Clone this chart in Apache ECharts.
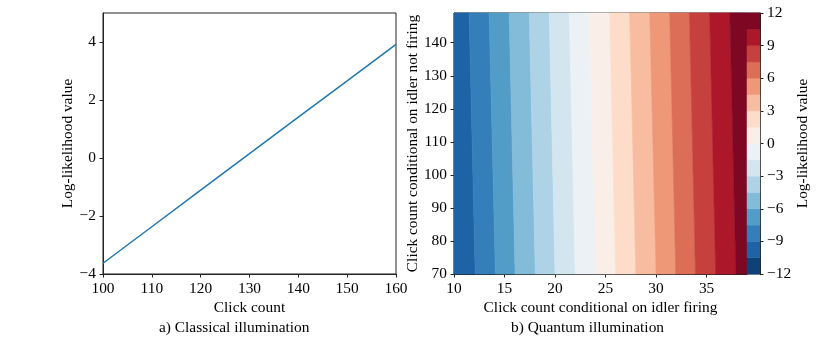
<!DOCTYPE html>
<html style="height: 100%">
<head>
    <meta charset="utf-8">
    <title>Log-likelihood</title>
</head>
<body style="height: 100%; margin: 0">
<div id="container" style="width: 830px; height: 346px"></div>
<script src="https://cdn.jsdelivr.net/npm/echarts@6/dist/echarts.min.js"></script>
<script type="text/javascript">
    // a) classical illumination
    var clickCount = [100, 110, 120, 130, 140, 150, 160];
    var logLikClassical = [-3.63, -2.37, -1.11, 0.15, 1.41, 2.66, 3.92];

    // b) quantum illumination: contour levels and where each level line
    // crosses the bottom (y=70) and top (y=149) of the plot
    var levels = [-12, -10.5, -9, -7.5, -6, -4.5, -3, -1.5, 0, 1.5, 3, 4.5, 6, 7.5, 9, 10.5, 12];
    var boundaryLevels = [-9, -7.5, -6, -4.5, -3, -1.5, 0, 1.5, 3, 4.5, 6, 7.5, 9, 10.5];
    var boundaryAt70 = [12.1, 14.1, 16.05, 18.05, 20.0, 22.0, 24.0, 26.0, 28.0, 30.0, 31.95, 33.9, 35.9, 37.9];
    var boundaryAt149 = [11.5, 13.48, 15.46, 17.45, 19.43, 21.42, 23.4, 25.4, 27.38, 29.37, 31.35, 33.3, 35.3, 37.3];
    var idlerFiringTicks = [10, 15, 20, 25, 30, 35];
    var idlerNotFiringTicks = [70, 80, 90, 100, 110, 120, 130, 140];
    var classicalYTicks = [-4, -2, 0, 2, 4];
    var xRange = [10, 39];
    var yRange = [70, 149];

    // RdBu_r sampled at band midpoints
    var bandColors = ['#0e4178', '#1f63a7', '#347fb9', '#529cc8', '#83bcd9', '#aed3e6',
        '#d3e6f0', '#ebf1f5', '#f9eee8', '#fdddca', '#f8bda0', '#ee9878',
        '#dc6d57', '#c6413e', '#ad172a', '#7e0823'];

    var font = 'Liberation Serif';
    var fs = 15.4;
    var axisCol = '#222';
    var minus = function (v) { return String(v).replace('-', '\u2212'); };

    var contourData = [];
    for (var k = 1; k < levels.length - 1; k++) {
        var li = boundaryLevels.indexOf(levels[k]);
        var ri = boundaryLevels.indexOf(levels[k + 1]);
        contourData.push([
            li >= 0 ? boundaryAt70[li] : xRange[0],
            li >= 0 ? boundaryAt149[li] : xRange[0],
            ri >= 0 ? boundaryAt70[ri] : xRange[1],
            ri >= 0 ? boundaryAt149[ri] : xRange[1],
            k
        ]);
    }
    var barData = [];
    for (var j = 0; j < levels.length - 1; j++) {
        barData.push([levels[j], levels[j + 1], j]);
    }

    function baseAxis(extra) {
        var a = {
            axisLine: { show: true, onZero: false, lineStyle: { color: axisCol, width: 1 } },
            axisTick: { show: true, inside: false, length: 3.5, lineStyle: { color: axisCol } },
            axisLabel: { color: '#000', fontFamily: font, fontSize: fs, margin: 7, formatter: minus },
            splitLine: { show: false },
            nameTextStyle: { color: '#000', fontFamily: font, fontSize: fs },
            nameLocation: 'middle'
        };
        for (var key in extra) a[key] = extra[key];
        return a;
    }

    var dom = document.getElementById('container');
    var myChart = echarts.init(dom, null, { renderer: 'canvas' });
    var gridStyle = { show: true, borderColor: axisCol, borderWidth: 1, backgroundColor: 'transparent', outerBoundsMode: 'none', containLabel: false };

    var option = {
        backgroundColor: '#fff',
        animation: false,
        grid: [
            Object.assign({ left: 103, top: 13, width: 293, height: 261 }, gridStyle),
            Object.assign({ left: 454, top: 13, width: 293, height: 261 }, gridStyle),
            Object.assign({ left: 747, top: 13, width: 13, height: 261 }, gridStyle)
        ],
        xAxis: [
            baseAxis({
                gridIndex: 0, type: 'value', min: 100, max: 160, interval: 10,
                name: 'Click count', nameGap: 21
            }),
            baseAxis({
                gridIndex: 1, type: 'value', min: xRange[0], max: xRange[1],
                name: 'Click count conditional on idler firing', nameGap: 21,
                axisTick: { show: true, length: 3.5, lineStyle: { color: axisCol }, customValues: idlerFiringTicks },
                axisLabel: { color: '#000', fontFamily: font, fontSize: fs, margin: 7, customValues: idlerFiringTicks }
            }),
            { gridIndex: 2, type: 'value', min: 0, max: 1, show: false }
        ],
        yAxis: [
            baseAxis({
                gridIndex: 0, type: 'value', min: -4, max: 5,
                name: 'Log-likelihood value', nameGap: 28, nameRotate: 90,
                axisTick: { show: true, length: 3.5, lineStyle: { color: axisCol }, customValues: classicalYTicks },
                axisLabel: { color: '#000', fontFamily: font, fontSize: fs, margin: 7, formatter: minus, customValues: classicalYTicks }
            }),
            baseAxis({
                gridIndex: 1, type: 'value', min: yRange[0], max: yRange[1],
                name: 'Click count conditional on idler not firing', nameGap: 33, nameRotate: 90,
                axisTick: { show: true, length: 3.5, lineStyle: { color: axisCol }, customValues: idlerNotFiringTicks },
                axisLabel: { color: '#000', fontFamily: font, fontSize: fs, margin: 7, customValues: idlerNotFiringTicks }
            }),
            baseAxis({
                gridIndex: 2, type: 'value', min: -12, max: 12, interval: 3, position: 'right',
                name: 'Log-likelihood value', nameGap: 25, nameRotate: 90
            })
        ],
        graphic: [
            { type: 'text', left: 249 - 90, top: 320, style: { text: 'a) Classical illumination', font: fs + 'px "Liberation Serif"', fill: '#000', width: 180, align: 'center' }, z: 10 },
            { type: 'text', left: 601 - 90, top: 320, style: { text: 'b) Quantum illumination', font: fs + 'px "Liberation Serif"', fill: '#000', width: 180, align: 'center' }, z: 10 }
        ],
        series: [
            {
                type: 'line',
                xAxisIndex: 0, yAxisIndex: 0,
                showSymbol: false,
                lineStyle: { color: '#1f77b4', width: 1.5 },
                data: clickCount.map(function (c, i) { return [c, logLikClassical[i]]; })
            },
            {
                type: 'custom',
                xAxisIndex: 1, yAxisIndex: 1,
                data: contourData,
                renderItem: function (params, api) {
                    var p = [
                        api.coord([api.value(0), yRange[0]]),
                        api.coord([api.value(1), yRange[1]]),
                        api.coord([api.value(3), yRange[1]]),
                        api.coord([api.value(2), yRange[0]])
                    ];
                    var c = bandColors[api.value(4)];
                    return {
                        type: 'polygon',
                        shape: { points: p },
                        style: { fill: c, stroke: c, lineWidth: 0.6 }
                    };
                }
            },
            {
                type: 'custom',
                xAxisIndex: 2, yAxisIndex: 2,
                data: barData,
                renderItem: function (params, api) {
                    var lo = api.coord([0, api.value(0)]);
                    var hi = api.coord([1, api.value(1)]);
                    var c = bandColors[api.value(2)];
                    return {
                        type: 'rect',
                        shape: { x: lo[0], y: hi[1], width: hi[0] - lo[0], height: lo[1] - hi[1] },
                        style: { fill: c, stroke: c, lineWidth: 0.5 }
                    };
                }
            }
        ]
    };
    myChart.setOption(option, true);
</script>
</body>
</html>
